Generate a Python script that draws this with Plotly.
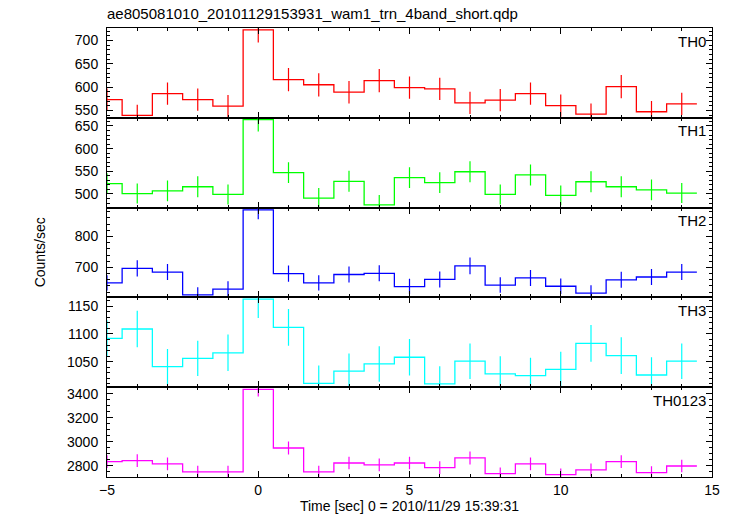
import plotly.graph_objects as go
from plotly.subplots import make_subplots

time_centers = [-5, -4, -3, -2, -1, 0, 1, 2, 3, 4, 5, 6, 7, 8, 9, 10, 11, 12, 13, 14]

th0 = [573, 539, 586, 573, 559, 723, 616, 605, 589, 614, 599, 596, 566, 572, 586, 560, 542, 601, 547, 564]
th1 = [523, 501, 507, 516, 499, 664, 547, 491, 528, 476, 536, 525, 549, 499, 542, 497, 527, 516, 509, 502]
th2 = [650, 697, 685, 611, 630, 886, 680, 650, 677, 681, 638, 661, 705, 643, 666, 639, 617, 660, 669, 685]
th3 = [1092, 1109, 1041, 1056, 1066, 1163, 1112, 1011, 1033, 1046, 1058, 1010, 1051, 1028, 1025, 1036, 1083, 1061, 1026, 1051]
th0123 = [2833, 2842, 2814, 2747, 2747, 3436, 2947, 2747, 2822, 2806, 2822, 2783, 2864, 2733, 2814, 2725, 2764, 2833, 2742, 2797]

err0 = [24, 23, 24, 24, 24, 27, 25, 25, 24, 25, 24, 24, 24, 24, 24, 24, 23, 25, 23, 24]
err1 = [23, 22, 23, 23, 22, 26, 23, 22, 23, 22, 23, 23, 23, 22, 23, 22, 23, 23, 23, 22]
err2 = [25, 26, 26, 25, 25, 30, 26, 25, 26, 26, 25, 26, 27, 25, 26, 25, 25, 26, 26, 26]
err3 = [33, 33, 32, 32, 33, 34, 33, 32, 32, 32, 33, 32, 32, 32, 32, 32, 33, 33, 32, 32]
err0123 = [53, 53, 53, 52, 52, 59, 54, 52, 53, 53, 53, 53, 54, 52, 53, 52, 53, 53, 52, 53]

labels = ["TH0", "TH1", "TH2", "TH3", "TH0123"]
colors = ["#ff0000", "#00ff00", "#0000ff", "#00ffff", "#ff00ff"]
series = [th0, th1, th2, th3, th0123]
errors = [err0, err1, err2, err3, err0123]
y_ranges = [[534, 727], [470, 668], [603, 893.5], [1004, 1166], [2705, 3455]]
y_dticks = [50, 50, 100, 50, 200]
y_minor = [10, 10, 20, 10, 50]

title_text = "ae805081010_20101129153931_wam1_trn_4band_short.qdp"
x_title = "Time [sec] 0 = 2010/11/29 15:39:31"
y_title = "Counts/sec"

FONT = "Liberation Sans, Arial, Helvetica, sans-serif"

fig = make_subplots(rows=5, cols=1, shared_xaxes=True, vertical_spacing=0)

for i, (vals, errs, col, lab) in enumerate(zip(series, errors, colors, labels)):
    row = i + 1
    edges = [c - 0.5 for c in time_centers] + [time_centers[-1] + 0.5]
    step_y = list(vals) + [vals[-1]]
    fig.add_trace(go.Scatter(x=edges, y=step_y, mode="lines", line_shape="hv",
                             line=dict(color=col, width=1.3), showlegend=False,
                             hoverinfo="skip"), row=row, col=1)
    fig.add_trace(go.Scatter(x=time_centers, y=vals, mode="markers",
                             marker=dict(size=0.1, color=col, opacity=0),
                             error_y=dict(type="data", array=errs, visible=True,
                                          color=col, thickness=1.2, width=0),
                             showlegend=False), row=row, col=1)

for i in range(5):
    row = i + 1
    fig.update_yaxes(range=y_ranges[i], dtick=y_dticks[i], tick0=0, automargin=False,
                     ticks="inside", ticklen=6, tickwidth=1, tickcolor="black",
                     ticklabelstandoff=5,
                     minor=dict(dtick=y_minor[i], ticks="inside", ticklen=3,
                                tickcolor="black", tick0=0),
                     showline=True, linecolor="black", linewidth=1, mirror="allticks",
                     showgrid=False, zeroline=False,
                     tickfont=dict(family=FONT, size=14, color="black"),
                     row=row, col=1)
    fig.update_xaxes(range=[-5, 15], dtick=5, tick0=0, automargin=False,
                     ticks="inside", ticklen=6, tickwidth=1, tickcolor="black",
                     minor=dict(dtick=1, ticks="inside", ticklen=3, tickcolor="black"),
                     showline=True, linecolor="black", linewidth=1, mirror="allticks",
                     showgrid=False, zeroline=False,
                     showticklabels=(row == 5),
                     tickfont=dict(family=FONT, size=14, color="black"),
                     row=row, col=1)

fig.update_xaxes(title=dict(text=x_title, font=dict(family=FONT, size=14, color="black"),
                            standoff=4), row=5, col=1)

# panel labels
for i, lab in enumerate(labels):
    yref = "y domain" if i == 0 else "y%d domain" % (i + 1)
    xref = "x domain" if i == 0 else "x%d domain" % (i + 1)
    fig.add_annotation(text=lab, xref=xref, yref=yref, x=0.994, y=0.97,
                       xanchor="right", yanchor="top", showarrow=False,
                       font=dict(family=FONT, size=15, color="black"))

fig.add_annotation(text=y_title, xref="paper", yref="paper", x=-0.111, y=0.5,
                   xanchor="center", yanchor="middle", textangle=-90, showarrow=False,
                   font=dict(family=FONT, size=14, color="black"))

fig.update_layout(
    width=733, height=516,
    margin=dict(l=107, r=21, t=28, b=39, autoexpand=False),
    paper_bgcolor="white", plot_bgcolor="white",
    title=dict(text=title_text, x=107 / 733, xanchor="left", y=1 - 14 / 516, yanchor="middle",
               font=dict(family=FONT, size=15, color="black")),
    showlegend=False,
)

fig.write_html("out.html", config={"displayModeBar": False},
               post_script="document.body.style.margin='0';document.body.style.overflow='hidden';")
